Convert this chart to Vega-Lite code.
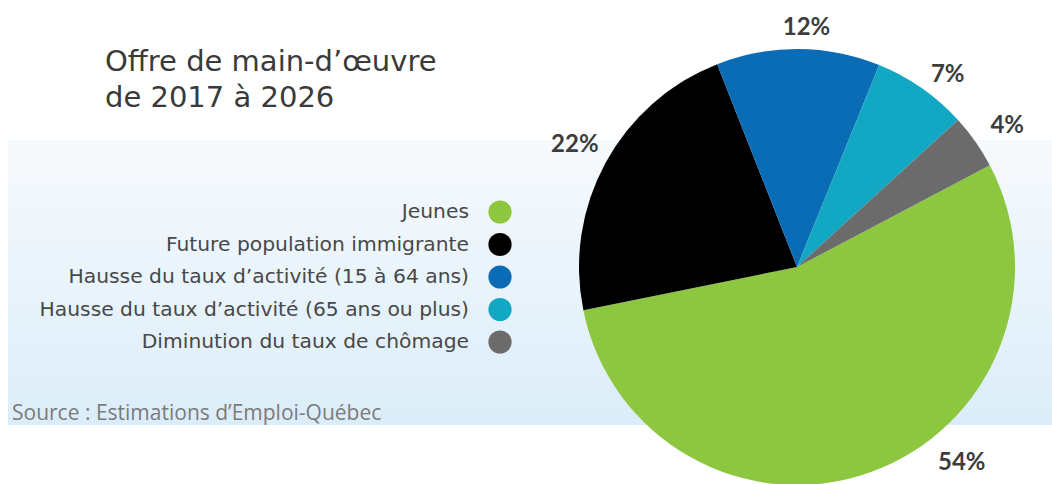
{
  "$schema": "https://vega.github.io/schema/vega-lite/v6.json",
  "background": "white",
  "autosize": {"type": "pad"},
  "padding": {"left": 8, "top": 16, "right": 0, "bottom": 0},
  "title": {
    "text": ["Offre de main-d’œuvre", "de 2017 à 2026"],
    "anchor": "start",
    "orient": "top",
    "offset": 0,
    "dx": 97,
    "dy": 97,
    "font": "DejaVu Sans",
    "fontSize": 29,
    "fontWeight": "normal",
    "color": "#3a3a3a",
    "lineHeight": 36
  },
  "datasets": {
    "parts": [
      {"categorie": "Jeunes", "part": 0.54, "ordre": 1},
      {"categorie": "Future population immigrante", "part": 0.22, "ordre": 2},
      {"categorie": "Hausse du taux d’activité (15 à 64 ans)", "part": 0.12, "ordre": 3},
      {"categorie": "Hausse du taux d’activité (65 ans ou plus)", "part": 0.07, "ordre": 4},
      {"categorie": "Diminution du taux de chômage", "part": 0.04, "ordre": 5}
    ]
  },
  "data": {"name": "parts"},
  "spacing": 0,
  "hconcat": [
    {
      "width": 534,
      "height": 434,
      "view": {
        "stroke": null,
        "fill": {
          "gradient": "linear", "x1": 0, "y1": 0, "x2": 0, "y2": 1,
          "stops": [
            {"offset": 0, "color": "#ffffff"},
            {"offset": 0.207, "color": "#ffffff"},
            {"offset": 0.208, "color": "#f7fafd"},
            {"offset": 0.863, "color": "#dbedf9"},
            {"offset": 0.864, "color": "#ffffff"},
            {"offset": 1, "color": "#ffffff"}
          ]
        }
      },
      "title": {
        "text": "Source : Estimations d’Emploi-Québec",
        "orient": "bottom",
        "anchor": "start",
        "offset": -81,
        "dx": 4,
        "font": "Open Sans",
        "fontSize": 21,
        "fontWeight": "normal",
        "color": "#7b7b7b"
      },
      "encoding": {
        "y": {
          "field": "categorie",
          "type": "nominal",
          "sort": ["Jeunes", "Future population immigrante", "Hausse du taux d’activité (15 à 64 ans)", "Hausse du taux d’activité (65 ans ou plus)", "Diminution du taux de chômage"],
          "scale": {"type": "point", "range": [162, 292], "padding": 0},
          "axis": null
        },
        "x": {"value": "width"}
      },
      "layer": [
        {
          "mark": {"type": "circle", "size": 540, "opacity": 1, "xOffset": -42},
          "encoding": {
            "color": {
              "field": "categorie",
              "type": "nominal",
              "scale": {
                "domain": ["Jeunes", "Future population immigrante", "Hausse du taux d’activité (15 à 64 ans)", "Hausse du taux d’activité (65 ans ou plus)", "Diminution du taux de chômage"],
                "range": ["#8dc63f", "#000000", "#0b6cb6", "#12a8c4", "#6b6b6b"]
              },
              "legend": null
            }
          }
        },
        {
          "mark": {"type": "text", "align": "right", "baseline": "middle", "xOffset": -73, "font": "DejaVu Sans", "fontSize": 20.3, "color": "#484848"},
          "encoding": {"text": {"field": "categorie"}}
        }
      ]
    },
    {
      "width": 510,
      "height": 434,
      "view": {
        "stroke": null,
        "fill": {
          "gradient": "linear", "x1": 0, "y1": 0, "x2": 0, "y2": 1,
          "stops": [
            {"offset": 0, "color": "#ffffff"},
            {"offset": 0.207, "color": "#ffffff"},
            {"offset": 0.208, "color": "#f7fafd"},
            {"offset": 0.863, "color": "#dbedf9"},
            {"offset": 0.864, "color": "#ffffff"},
            {"offset": 1, "color": "#ffffff"}
          ]
        }
      },
      "encoding": {
        "theta": {"field": "part", "type": "quantitative", "stack": true, "scale": {"range": [1.085, 7.368]}},
        "order": {"field": "ordre", "type": "quantitative"}
      },
      "layer": [
        {
          "mark": {"type": "arc", "outerRadius": 218},
          "encoding": {
            "color": {
              "field": "categorie",
              "type": "nominal",
              "scale": {
                "domain": ["Jeunes", "Future population immigrante", "Hausse du taux d’activité (15 à 64 ans)", "Hausse du taux d’activité (65 ans ou plus)", "Diminution du taux de chômage"],
                "range": ["#8dc63f", "#000000", "#0b6cb6", "#12a8c4", "#6b6b6b"]
              },
              "legend": null
            }
          }
        },
        {
          "mark": {
            "type": "text",
            "radius": 246,
            "font": "Lato",
            "fontSize": 24,
            "fontWeight": "bold",
            "color": "#3d3d3d",
            "dx": {"expr": "[82, -6, 8, 10, 9][datum.ordre - 1]"},
            "dy": {"expr": "[-36, -5, 7, 10, 1][datum.ordre - 1]"}
          },
          "encoding": {"text": {"field": "part", "type": "quantitative", "format": ".0%"}}
        }
      ]
    }
  ],
  "config": {"view": {"stroke": null}}
}
